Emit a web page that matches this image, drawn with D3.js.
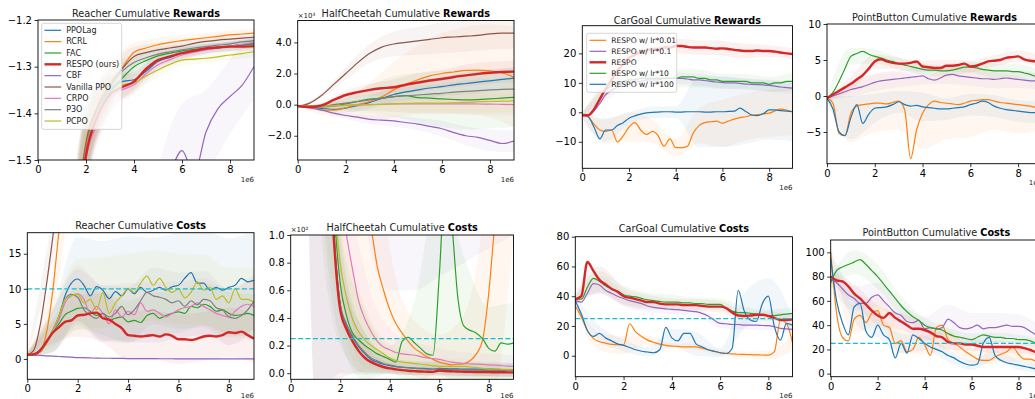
<!DOCTYPE html>
<html>
<head>
<meta charset="utf-8">
<script src="https://cdn.jsdelivr.net/npm/d3@7"></script>
<style>
  body { margin: 0; background: #fff; }
  svg { display: block; font-family: "DejaVu Sans", sans-serif; }
</style>
</head>
<body>
<svg id="chart" width="1035" height="399"></svg>
<script>
// sample positions (x in 1e6 steps)
const xh = [0,0.5,1,1.5,2,2.5,3,3.5,4,4.5,5,5.5,6,6.5,7,7.5,8,8.5,9];
const xq = [0,0.25,0.5,0.75,1,1.25,1.5,1.75,2,2.25,2.5,2.75,3,3.25,3.5,3.75,4,4.25,4.5,4.75,
            5,5.25,5.5,5.75,6,6.25,6.5,6.75,7,7.25,7.5,7.75,8,8.25,8.5,8.75,9];
const xb = [0,1,2,3,4,5,6,7,8,9]; // where the std bands are read

const algoNames = ['PPOLag','RCRL','FAC','RESPO (ours)','CBF','Vanilla PPO','CRPO','P3O','PCPO'];
const lrNames = ['RESPO w/ lr*0.01','RESPO w/ lr*0.1','RESPO','RESPO w/ lr*10','RESPO w/ lr*100'];

// ---- Reacher rewards (xh)
const rR_ppolag = [-3.5,-3.0,-2.3,-1.72,-1.48,-1.40,-1.355,-1.332,-1.328,-1.31,-1.289,-1.28,-1.271,-1.267,-1.263,-1.26,-1.256,-1.253,-1.25];
const rR_rcrl   = [-3.5,-3.0,-2.2,-1.68,-1.46,-1.38,-1.335,-1.303,-1.269,-1.26,-1.253,-1.248,-1.244,-1.241,-1.238,-1.235,-1.232,-1.23,-1.228];
const rR_fac    = [-3.5,-3.0,-2.25,-1.7,-1.47,-1.39,-1.35,-1.325,-1.30,-1.287,-1.277,-1.271,-1.266,-1.263,-1.261,-1.258,-1.256,-1.254,-1.251];
const rR_respo  = [-3.5,-3.0,-2.3,-1.72,-1.49,-1.405,-1.36,-1.344,-1.332,-1.305,-1.286,-1.278,-1.271,-1.266,-1.261,-1.259,-1.257,-1.257,-1.256];
const rR_cbf    = [-4.0,-3.8,-3.5,-3.2,-2.9,-2.6,-2.3,-2.1,-1.9,-1.75,-1.6,-1.53,-1.48,-1.53,-1.44,-1.39,-1.364,-1.34,-1.30];
const rR_ppo    = [-3.5,-3.0,-2.2,-1.69,-1.465,-1.385,-1.34,-1.305,-1.278,-1.27,-1.264,-1.26,-1.256,-1.25,-1.246,-1.243,-1.241,-1.239,-1.237];
const rR_crpo   = [-3.5,-3.0,-2.35,-1.75,-1.5,-1.42,-1.37,-1.35,-1.339,-1.315,-1.296,-1.285,-1.275,-1.269,-1.264,-1.26,-1.256,-1.252,-1.248];
const rR_p3o    = [-3.5,-3.0,-2.25,-1.7,-1.47,-1.39,-1.345,-1.31,-1.291,-1.281,-1.273,-1.268,-1.264,-1.26,-1.257,-1.254,-1.251,-1.247,-1.244];
const rR_pcpo   = [-3.5,-3.0,-2.3,-1.72,-1.48,-1.4,-1.36,-1.339,-1.335,-1.32,-1.307,-1.295,-1.286,-1.284,-1.282,-1.279,-1.275,-1.272,-1.268];
const rR_sd     = [0.3,0.3,0.08,0.04,0.02,0.015,0.012,0.01,0.01,0.01];
const rR_sdCBF  = [0.3,0.3,0.3,0.2,0.1,0.08,0.1,0.09,0.08,0.07];

// ---- HalfCheetah rewards, x10^3 (xh)
const hR_ppolag = [-0.1,-0.15,-0.25,-0.3,-0.22,-0.05,0.15,0.4,0.65,0.82,0.95,1.07,1.16,1.27,1.36,1.45,1.53,1.62,1.7];
const hR_rcrl   = [-0.1,-0.2,-0.35,-0.35,-0.2,0.0,0.2,0.5,0.95,1.3,1.6,1.85,2.0,2.1,2.2,2.22,2.17,2.05,1.76];
const hR_fac    = [-0.1,-0.12,-0.15,-0.1,0.05,0.2,0.35,0.42,0.52,0.58,0.45,0.42,0.37,0.33,0.3,0.32,0.37,0.42,0.47];
const hR_respo  = [-0.1,-0.15,-0.05,0.3,0.62,0.8,0.95,1.05,1.12,1.28,1.42,1.55,1.65,1.78,1.88,1.98,2.05,2.1,2.12];
const hR_cbf    = [-0.1,-0.2,-0.35,-0.55,-0.7,-0.8,-0.95,-1.0,-1.05,-1.15,-1.25,-1.4,-1.55,-1.8,-2.0,-2.1,-2.3,-2.5,-2.35];
const hR_ppo    = [-0.1,0.1,0.6,1.3,2.0,2.7,3.3,3.7,3.9,4.0,4.1,4.2,4.3,4.35,4.4,4.45,4.55,4.6,4.6];
const hR_crpo   = [-0.1,-0.1,-0.1,-0.08,-0.05,-0.02,0.0,0.02,0.05,0.05,0.05,0.05,0.05,0.05,0.05,0.04,0.03,0.02,0.0];
const hR_p3o    = [-0.1,-0.1,-0.1,0.0,0.1,0.2,0.3,0.4,0.52,0.57,0.62,0.68,0.73,0.8,0.85,0.9,0.95,0.98,1.0];
const hR_pcpo   = [-0.1,-0.1,-0.1,-0.08,-0.05,-0.02,0.0,0.02,0.05,0.08,0.1,0.1,0.1,0.12,0.15,0.18,0.2,0.22,0.24];
const hR_sd     = [0,0.15,0.3,0.4,0.5,0.6,0.6,0.7,0.7,0.7];
const hR_sdPPO  = [0,0.15,0.4,0.6,0.8,0.9,1.0,1.0,1.0,1.0];
const hR_sdRCRL = [0,0.3,0.6,1.2,1.8,2.2,2.6,2.8,3.0,3.2];
const hR_sdFAC  = [0,0.2,0.5,0.9,1.3,1.6,1.8,1.9,1.9,1.9];
const hR_sdCBF  = [0,0.1,0.2,0.3,0.35,0.4,0.5,0.6,0.7,0.7];

// ---- CarGoal rewards (xq)
const cR_lr001 = [-1,-1.5,-4,-6, -6.5,-6,-10,-8, -5,-3.5,-6,-7.5, -6.5,-8,-11.5,-9, -12,-12,-11.5,-7,
                  -4.5,-3.5,-3.2,-3, -3.7,-3,-2.3,-1.8, -1.5,-1,-0.8,-0.5, -0.3,0.5,1.1,0.8, 0.2];
const cR_lr01  = [-1,-1,0.5,3, 6,7.5,8.5,9.5, 10,10.5,10.5,11, 11,11,11.5,11.5, 11.5,11.5,11.3,11,
                  11,10.8,10.5,10.3, 10.1,10,10,9.8, 9.6,9.5,9.4,9.3, 9.1,8.9,8.6,8.4, 8.2];
const cR_respo = [-1,-1,1,4.5, 8,11,14,16.5, 18.5,19.5,20.5,21, 21.5,21.5,22,22, 22.5,22.5,22.2,22,
                  22,22,21.8,21.6, 21.7,21.5,21.2,21, 20.8,20.8,21,20.8, 20.8,20.6,20.3,20, 19.8];
const cR_lr10  = [-1,-1,1,4.5, 7.5,9,10,10.5, 11,11,11.5,11.5, 11.5,11.5,11.5,11.5, 11.5,12,12,12,
                  11.5,11.5,11,11, 10.5,10.5,10.5,10.5, 10.5,10,10,10, 9.5,10,10,10.5, 10.5];
const cR_lr100 = [-1,-1.5,-5,-9, -6,-6,-4.5,-3.5, -2,-1.2,-0.6,-0.2, 0,0.1,0.2,0.2, 0.1,0.1,0.2,0.2,
                  0.2,0.1,0.1,0.2, 0.2,0.3,0.4,1.4, 0.3,-0.9,-1.1,-0.5, 0.8,0.8,0.6,0.4, 0.2];
const cR_sd001  = [1,4,5,4,3,6,8,8,8,8];
const cR_sd01   = [1,2,2,2,2,2,2,2,2,2];
const cR_sdRes  = [1,3,3,3,2.5,2.5,2.5,2.5,2,2];
const cR_sd10   = [1,2,3,3,3,3,2.5,2.5,2.5,3];
const cR_sd100  = [1,4,2,2,2,12,12,11,10,10];

// ---- PointButton rewards (xq)
const pR_lr001 = [-0.3,-1.0,-5.2,-5.5, -2.4,-1.4,-1.2,-1.1, -1.0,-1.0,-1.1,-0.9, -0.7,-1.9,-8.7,-4.7, -2.4,-1.2,-0.7,-0.9,
                  -1.0,-1.1,-1.2,-1.0, -0.7,-0.6,-0.5,-0.5, -0.7,-0.9,-1.0,-1.1, -1.2,-1.3,-1.4,-1.6, -1.7];
const pR_lr01  = [-0.3,0,0.3,0.6, 0.9,1.1,1.3,1.6, 1.9,2.1,2.2,2.3, 2.4,2.5,2.6,2.7, 2.8,2.4,2.2,2.5,
                  2.9,3.0,2.8,2.7, 2.6,2.5,2.4,2.4, 2.3,2.4,2.5,2.4, 2.3,2.2,2.1,2.1, 2.0];
const pR_respo = [-0.3,0.2,0.7,1.2, 1.7,2.3,2.9,3.8, 4.8,5.1,4.8,4.6, 4.5,4.5,4.6,4.8, 4.1,4.0,3.9,3.9,
                  4.2,4.2,4.3,4.5, 4.1,4.2,4.5,4.8, 4.9,5.0,5.3,5.4, 5.5,5.1,4.9,4.8, 4.7];
const pR_lr10  = [-0.3,0.5,2,3.8, 5.5,5.9,6.2,5.8, 5.5,5.3,5,4.8, 4.5,4.3,4.1,3.9, 3.7,3.6,3.6,3.5,
                  3.5,3.6,3.8,4, 4.0,3.9,3.7,3.6, 3.5,3.5,3.5,3.4, 3.4,3.2,3.0,2.7, 2.5];
const pR_lr100 = [-0.3,-1.8,-4.9,-5.5, -3,-1.2,-3.8,-2.5, -1.7,-1.6,-1.5,-1.2, -0.8,-1.2,-1.4,-1.3, -1.5,-1.6,-1.7,-1.8,
                  -1.8,-1.7,-1.6,-1.5, -1.2,-1.0,-0.7,-0.9, -1.4,-1.7,-1.9,-2.0, -2.1,-2.2,-2.3,-2.3, -2.3];
const pR_sd001  = [0.3,4,4,4,5,5,5,4,4,3];
const pR_sd01   = [0.3,1,1.2,1.2,1.2,1.2,1.2,1.2,1.2,1.2];
const pR_sdRes  = [0.3,1,1,0.8,0.8,0.8,0.8,0.8,0.8,0.8];
const pR_sd10   = [0.3,1.2,1,0.8,0.8,0.8,0.8,1,1,1];
const pR_sd100  = [0.3,3,2,1.5,2,1.5,1.5,1.5,1.5,1.5];

// ---- Reacher costs (xq)
const rC_ppolag = [0.6,0.7,1.0,2.3, 4,6,9,10.8, 11.4,10.5,9,10.3, 9.8,8.6,9.6,9, 10,9.3,10.2,9.5,
                   9.8,10.2,9.8,10.3, 10.5,11.5,12.3,10.8, 10.8,9.8,10.2,9.8, 10.2,10.5,11.5,11, 11.2];
const rC_rcrl   = [0.5,0.6,1.0,3.5, 9.4,18,26,32, 36,39,41,43, 44,45,46,47, 47,48,48,49,
                   49,50,50,50, 51,51,51,52, 52,52,52,53, 53,53,53,54, 54];
const rC_fac    = [0.6,0.7,1.0,2.2, 3.7,5,6.3,6.8, 7.2,7.3,6.8,6.2, 6.5,5.5,5.8,6, 5.3,5.5,5.2,6.2,
                   6.5,5.8,6.2,6.5, 6.7,6.5,7.5,7.3, 7.8,7.5,6.8,7, 6.5,6.2,6.3,6.5, 6.2];
const rC_respo  = [0.6,0.65,1.2,2.4, 3.7,4.5,5.3,5.5, 6.2,6.3,6.5,6.6, 5.8,5.6,5,4.4, 3.4,3.3,3.2,3.3,
                   3.4,3.2,3.5,3.3, 2.8,2.8,2.7,2.9, 3.2,3.3,3.2,3.4, 3.8,3.7,3.9,3.4, 2.9];
const rC_cbf    = [0.6,0.55,0.5,0.45, 0.4,0.35,0.3,0.25, 0.2,0.18,0.15,0.12, 0.1,0.1,0.08,0.07, 0.06,0.05,0.05,0.04,
                   0.04,0.03,0.03,0.03, 0.02,0.02,0.02,0.02, 0.02,0.02,0.02,0.02, 0.02,0.02,0.02,0.02, 0.02];
const rC_ppo    = [0.6,1.2,4.6,10.3, 17,24,30,34, 37,40,42,44, 45,46,47,48, 48,49,49,50,
                   50,50,51,51, 51,52,52,52, 52,53,53,53, 53,54,54,54, 54];
const rC_crpo   = [0.6,0.7,1.0,2.2, 3.8,5.5,8,9, 9.3,8.5,6.5,7.5, 6.5,5,7,6, 6.8,6.3,8,6.8,
                   7,6.5,6,6.5, 7,7.3,7.5,8, 7.5,7,6.5,6.2, 6,6.8,7.5,7.8, 7.5];
const rC_p3o    = [0.6,0.7,1.0,2.3, 4,6,8.5,9.2, 8.8,7,6.2,5.8, 6.5,6,6.5,7.5, 6.3,7,8.3,9.5,
                   9,8.8,8.5,8, 8.3,7.5,8.3,7.7, 8.5,8.3,7.3,7, 6,5.8,6.2,7, 8.2];
const rC_pcpo   = [0.6,0.7,1.0,2.3, 4,6,8.5,9, 9.2,8,8.5,7, 9.5,6.5,8,9, 10,9.5,10.8,11.8,
                   10.5,11.5,10.2,9.5, 10,8.7,9.5,11, 9.8,10.2,8.5,9, 8,10,8.5,8.5, 8];
const rC_sdPPOLag = [0.2,3,6,7,7.5,7.5,7.5,7.5,7,7];
const rC_sdPCPO   = [0.2,3,5,5,5,5,5,5,5,5];
const rC_sdMid    = [0.2,3,4,4,4,4,4,4,4,4];
const rC_sdFAC    = [0.2,2,3,3,3,3,3,3,3,3];
const rC_sdRes    = [0.2,1.5,3,3.5,3.5,3.5,3.5,3.5,3.5,3.5];
const rC_sdCBF    = [0.1,0.1,0.1,0.1,0.1,0.1,0.1,0.1,0.1,0.1];
const rC_sdHigh   = [0.3,3,5,5,5,5,5,5,5,5];
const rC_limit = 10;

// ---- HalfCheetah costs, x10^2 (xq)
const hC_ppolag = [15,12,10,6, 4,2.8,1.9,1.0, 0.5,0.35,0.26,0.19, 0.14,0.1,0.08,0.065, 0.055,0.048,0.043,0.04,
                   0.037,0.035,0.033,0.03, 0.035,0.033,0.032,0.031, 0.03,0.03,0.03,0.03, 0.03,0.028,0.027,0.026, 0.025];
const hC_rcrl   = [20,18,16,14, 12,9,6,4, 3,2.5,2,1.6, 1.3,1.05,0.77,0.6, 0.46,0.36,0.29,0.23,
                   0.18,0.15,0.12,0.1, 0.08,0.07,0.06,0.065, 0.07,0.09,0.14,0.24, 0.58,1.1,1.6,2, 2.5];
const hC_fac    = [15,12,10,7, 5,3.5,2.2,1.2, 0.65,0.42,0.29,0.24, 0.2,0.17,0.14,0.12, 0.1,0.08,0.23,0.26,
                   0.22,0.18,0.14,0.13, 0.7,1.4,1.1,0.55, 0.34,0.31,0.29,0.25, 0.18,0.16,0.22,0.21, 0.22];
const hC_respo  = [15,12,10,6, 4,2.8,1.8,0.95, 0.46,0.32,0.23,0.16, 0.11,0.08,0.06,0.045, 0.035,0.028,0.022,0.018,
                   0.015,0.012,0.011,0.01, 0.02,0.016,0.014,0.012, 0.011,0.01,0.009,0.008, 0.008,0.007,0.007,0.006, 0.006];
const hC_cbf    = [20,18,16,14, 12,10,8,6, 5,4,3.5,3, 2.6,2.3,2,1.8, 1.7,1.6,1.5,1.5,
                   1.4,1.4,1.4,1.4, 1.4,1.5,1.5,1.6, 1.6,1.7,1.8,1.9, 2,2.1,2.2,2.3, 2.4];
const hC_ppo    = [25,24,23,22, 21,20,19,18, 17,16,15,14, 13,12,11,10, 9,8.5,8,7.5,
                   7,6.8,6.6,6.4, 6.2,6,5.8,5.6, 5.4,5.2,5,4.8, 4.6,4.5,4.4,4.3, 4.2];
const hC_crpo   = [15,13,11,9, 7,5,3,1.8, 1.3,1.0,0.75,0.52, 0.39,0.3,0.23,0.19, 0.17,0.15,0.14,0.135,
                   0.13,0.12,0.11,0.105, 0.1,0.09,0.08,0.075, 0.07,0.068,0.066,0.064, 0.06,0.058,0.055,0.052, 0.05];
const hC_p3o    = [15,12,10,6, 4,2.8,1.9,1.0, 0.5,0.36,0.27,0.2, 0.15,0.11,0.09,0.07, 0.06,0.05,0.045,0.04,
                   0.035,0.032,0.03,0.028, 0.03,0.028,0.026,0.025, 0.024,0.023,0.022,0.021, 0.02,0.02,0.02,0.02, 0.02];
const hC_pcpo   = [15,12,10,7, 5,3.5,2.2,1.3, 0.8,0.55,0.39,0.3, 0.24,0.2,0.17,0.14, 0.11,0.09,0.08,0.075,
                   0.07,0.065,0.06,0.055, 0.05,0.05,0.05,0.05, 0.05,0.045,0.04,0.035, 0.03,0.03,0.028,0.026, 0.025];
const hC_sdRes  = [2,4.2,0.5,0.1,0.04,0.03,0.03,0.03,0.03,0.03];
const hC_sdPPOL = [2,4.2,0.5,0.15,0.06,0.05,0.05,0.05,0.05,0.05];
const hC_sdLow  = [2,2.5,0.3,0.15,0.06,0.05,0.05,0.05,0.05,0.05];
const hC_sdPCPO = [2,3,0.4,0.25,0.1,0.08,0.06,0.05,0.05,0.05];
const hC_sdCRPO = [2,4,0.6,0.35,0.15,0.1,0.08,0.08,0.08,0.08];
const hC_sdFAC  = [2,3,0.4,0.25,0.1,0.3,0.7,0.5,0.3,0.3];
const hC_sdRCRL = [2,8,2,1.2,0.45,0.2,0.2,0.35,0.9,1.5];
const hC_sdCBF  = [2,8,2,1.5,1.1,0.8,0.7,0.8,1.1,1.4];
const hC_sdPPO  = [0,0,0,0,0,0,0,0,0,0];
const hC_limit = 0.25;

// ---- CarGoal costs (xq)
const cC_lr001 = [33.6,26,17,11.7, 9.4,8.5,7.6,7.4, 7.2,21.5,16,13, 10.5,9,7.8,7, 6.5,6.3,6,6,
                  6,5,4,3, 2,1.5,1.2,1, 0.9,0.7,0.6,0.5, 0.4,2.7,24,21.7, 8.7];
const cC_lr01  = [37,36,42,48.5, 47.5,44,42,40, 38.5,37,36,35, 33.4,32.5,32,31.5, 31.1,31,30.5,30,
                  29.6,28.5,26.7,24, 21.7,21.5,21,21, 20.6,20.5,20.5,20.3, 20.2,19.5,18.4,18, 17.7];
const cC_respo = [38,40,63,57, 51,48,45,43, 40,39,38,37, 36,36,35,34.5, 34.5,34.5,34,34,
                  34,33.5,33,33, 33,32,29,27, 26.7,27,27.5,27.5, 26.7,25.5,24,24, 24.5];
const cC_lr10  = [38,38,46,52, 50,47,45,43.5, 41,40,39.5,38.5, 37.5,37,36.5,36, 36,36,35.5,35.5,
                  35,35,34.5,34.5, 34.5,32,30,29, 29,28.5,28,27.5, 27,27,27.5,28, 28.5];
const cC_lr100 = [37,28,17,13, 15,12,10,8, 7,5.5,4,3, 2.5,2,4,19, 12,10,15,15,
                  8,6,4,3, 2,1.5,5,44, 30,24,23,35, 40,19.5,10.5,21.7, 20.6];
const cC_sd001  = [3,6,6,3,2,2,2,2,3,5];
const cC_sd01   = [3,6,5,4,3,3,3,3,3,3];
const cC_sdRes  = [3,9,6,5,4,4,4,3,3,3];
const cC_sd10   = [3,7,6,5,5,4,4,4,4,4];
const cC_sd100  = [3,5,4,3,6,8,3,12,12,6];
const cC_limit = 25;

// ---- PointButton costs (xq)
const pC_lr001 = [100,50,30,27, 45,48,42,50, 52,40,38,25, 27,18,20,30, 24,15,38,40,
                  28,25,22,18, 15,12,11,11, 14,16,18,22, 16,12,12,10, 8];
const pC_lr01  = [78,75,70,65, 62,58,58,63, 65,60,55,50, 48,43,42,44, 37,38,37,38,
                  45,42,38,37, 38,40,37,38, 38,39,40,39, 39,38,35,32, 30];
const pC_respo = [80,77,76,72, 66,62,57,52, 48,46,50,46, 43,40,37,37, 36,34,31,30,
                  26,25,25,24, 24,23,22,22, 22,22,22,22, 22,21,19.5,18, 18];
const pC_lr10  = [75,85,88,90, 92,94,90,85, 80,74,68,62, 56,51,47,44, 40,38,37,36,
                  33,31,30,29, 28,30,32,31, 30,30,29,29, 28,28,27,25, 24];
const pC_lr100 = [95,60,42,32, 55,58,35,30, 40,32,28,13, 25,17,32,29, 25,22,20,18,
                  15,13,10,8, 7,8,25,30, 15,11,9,8, 7,6,5,4, 4];
const pC_sd001  = [5,12,12,10,8,8,6,6,6,6];
const pC_sd01   = [5,10,10,10,10,12,12,12,10,8];
const pC_sdRes  = [5,8,8,7,6,6,5,5,5,5];
const pC_sd10   = [5,10,10,8,6,5,5,4,4,4];
const pC_sd100  = [5,12,10,8,6,5,4,4,4,3];
const pC_limit = 25;

const C = {
  blue: '#1f77b4', orange: '#ff7f0e', green: '#2ca02c', red: '#d62728', purple: '#9467bd',
  brown: '#8c564b', pink: '#e377c2', gray: '#7f7f7f', olive: '#bcbd22', cyan: '#17becf'
};
const algoColors = [C.blue, C.orange, C.green, C.red, C.purple, C.brown, C.pink, C.gray, C.olive];
const lrColors = [C.orange, C.purple, C.red, C.green, C.blue];

// red (RESPO) is always drawn last so it sits on top
function algoSeries(v, sd) {
  const idx = [0, 1, 2, 4, 5, 6, 7, 8, 3];
  return idx.map(i => ({ color: algoColors[i], vals: v[i], sd: sd[i], thick: i === 3 }));
}
function lrSeries(v, sd) {
  const idx = [0, 1, 3, 4, 2];
  return idx.map(i => ({ color: lrColors[i], vals: v[i], sd: sd[i], thick: i === 2 }));
}

const panels = [
  { name: 'Reacher', kind: 'Rewards', left: 38, right: 254, top: 20, bottom: 160, titleY: 16.5,
    grid: xh, yDomain: [-1.5, -1.2], yTicks: [-1.5, -1.4, -1.3, -1.2], fmt: d3.format('.1f'),
    series: algoSeries(
      [rR_ppolag, rR_rcrl, rR_fac, rR_respo, rR_cbf, rR_ppo, rR_crpo, rR_p3o, rR_pcpo],
      [rR_sd, rR_sd, rR_sd, rR_sd, rR_sdCBF, rR_sd, rR_sd, rR_sd, rR_sd]),
    legend: { names: algoNames, colors: algoColors, x: 41.7, y: 23.3, w: 80, rowH: 11.34, font: 8 } },
  { name: 'HalfCheetah', kind: 'Rewards', left: 297.7, right: 514, top: 20.5, bottom: 160, titleY: 16.5,
    grid: xh, yDomain: [-3.56, 5.41], yTicks: [-2, 0, 2, 4], fmt: d3.format('.1f'), expo: '×10³',
    series: algoSeries(
      [hR_ppolag, hR_rcrl, hR_fac, hR_respo, hR_cbf, hR_ppo, hR_crpo, hR_p3o, hR_pcpo],
      [hR_sd, hR_sdRCRL, hR_sdFAC, hR_sd, hR_sdCBF, hR_sdPPO, hR_sd, hR_sd, hR_sd]) },
  { name: 'CarGoal', kind: 'Rewards', left: 582.3, right: 792.5, top: 25.7, bottom: 168.3, titleY: 23.5,
    grid: xq, yDomain: [-19, 29.4], yTicks: [-10, 0, 10, 20], fmt: d3.format('d'),
    series: lrSeries([cR_lr001, cR_lr01, cR_respo, cR_lr10, cR_lr100],
                     [cR_sd001, cR_sd01, cR_sdRes, cR_sd10, cR_sd100]),
    legend: { names: lrNames, colors: lrColors, x: 586.7, y: 33.3, w: 90, rowH: 11, font: 7.6 } },
  { name: 'PointButton', kind: 'Rewards', left: 827, right: 1042, top: 24, bottom: 163.7, titleY: 20.5,
    grid: xq, yDomain: [-9.4, 10], yTicks: [-5, 0, 5, 10], fmt: d3.format('d'),
    series: lrSeries([pR_lr001, pR_lr01, pR_respo, pR_lr10, pR_lr100],
                     [pR_sd001, pR_sd01, pR_sdRes, pR_sd10, pR_sd100]) },
  { name: 'Reacher', kind: 'Costs', left: 27.3, right: 254, top: 232.7, bottom: 379.3, titleY: 228.5,
    grid: xq, yDomain: [-2.9, 18], yTicks: [0, 5, 10, 15], fmt: d3.format('d'), limit: rC_limit,
    series: algoSeries(
      [rC_ppolag, rC_rcrl, rC_fac, rC_respo, rC_cbf, rC_ppo, rC_crpo, rC_p3o, rC_pcpo],
      [rC_sdPPOLag, rC_sdHigh, rC_sdFAC, rC_sdRes, rC_sdCBF, rC_sdHigh, rC_sdMid, rC_sdMid, rC_sdPCPO]) },
  { name: 'HalfCheetah', kind: 'Costs', left: 290.7, right: 513.5, top: 235, bottom: 379.3, titleY: 231,
    grid: xq, yDomain: [-0.044, 1.0], yTicks: [0, 0.2, 0.4, 0.6, 0.8, 1.0], fmt: d3.format('.1f'),
    expo: '×10²', limit: hC_limit,
    series: algoSeries(
      [hC_ppolag, hC_rcrl, hC_fac, hC_respo, hC_cbf, hC_ppo, hC_crpo, hC_p3o, hC_pcpo],
      [hC_sdPPOL, hC_sdRCRL, hC_sdFAC, hC_sdRes, hC_sdCBF, hC_sdPPO, hC_sdCRPO, hC_sdLow, hC_sdPCPO]) },
  { name: 'CarGoal', kind: 'Costs', left: 575.3, right: 792.5, top: 236.7, bottom: 376.7, titleY: 232,
    grid: xq, yDomain: [-14.1, 80], yTicks: [0, 20, 40, 60, 80], fmt: d3.format('d'), limit: cC_limit,
    series: lrSeries([cC_lr001, cC_lr01, cC_respo, cC_lr10, cC_lr100],
                     [cC_sd001, cC_sd01, cC_sdRes, cC_sd10, cC_sd100]) },
  { name: 'PointButton', kind: 'Costs', left: 830.7, right: 1042, top: 240, bottom: 376.7, titleY: 236,
    grid: xq, yDomain: [-2.5, 110.2], yTicks: [0, 20, 40, 60, 80, 100], fmt: d3.format('d'), limit: pC_limit,
    series: lrSeries([pC_lr001, pC_lr01, pC_respo, pC_lr10, pC_lr100],
                     [pC_sd001, pC_sd01, pC_sdRes, pC_sd10, pC_sd100]) }
];

const svg = d3.select('#chart');
const font = 'DejaVu Sans';
let clipN = 0;

function drawPanel(p) {
  const x = d3.scaleLinear().domain([0, 9]).range([p.left, p.right]);
  const y = d3.scaleLinear().domain(p.yDomain).range([p.bottom, p.top]);

  const id = 'clip' + clipN++;
  svg.append('clipPath').attr('id', id).append('rect')
    .attr('x', p.left).attr('y', p.top)
    .attr('width', p.right - p.left).attr('height', p.bottom - p.top);
  const plot = svg.append('g').attr('clip-path', `url(#${id})`);

  // std bands, centre at the band positions
  const step = p.grid === xq ? 4 : 2;
  const area = d3.area().curve(d3.curveMonotoneX)
    .x(d => x(d[0])).y0(d => y(d[1] - d[2])).y1(d => y(d[1] + d[2]));
  p.series.forEach(s => {
    const pts = xb.map((bx, i) => [bx, s.vals[i * step], s.sd[i]]);
    plot.append('path').attr('d', area(pts))
      .attr('fill', s.color).attr('fill-opacity', 0.065);
  });

  const line = d3.line().curve(d3.curveMonotoneX)
    .x((d, i) => x(p.grid[i])).y(d => y(d));
  p.series.forEach(s => {
    plot.append('path').attr('d', line(s.vals))
      .attr('fill', 'none').attr('stroke', s.color)
      .attr('stroke-width', s.thick ? 2.4 : 1.2)
      .attr('stroke-linejoin', 'round');
  });

  if (p.limit != null) {
    plot.append('line')
      .attr('x1', p.left).attr('x2', p.right)
      .attr('y1', y(p.limit)).attr('y2', y(p.limit))
      .attr('stroke', C.cyan).attr('stroke-width', 1.2)
      .attr('stroke-dasharray', '5,2.4');
  }

  // axes
  const gx = svg.append('g').attr('transform', `translate(0,${p.bottom})`)
    .call(d3.axisBottom(x).tickValues([0, 2, 4, 6, 8]).tickSize(3.5).tickPadding(2.5)
      .tickFormat(d3.format('d')));
  const gy = svg.append('g').attr('transform', `translate(${p.left},0)`)
    .call(d3.axisLeft(y).tickValues(p.yTicks).tickSize(3.5).tickPadding(2.5).tickFormat(p.fmt));
  [gx, gy].forEach(g => {
    g.attr('font-family', font).attr('font-size', 10);
    g.select('.domain').remove();
    g.selectAll('.tick line').attr('stroke', '#000').attr('stroke-width', 0.8);
    g.selectAll('.tick text').attr('fill', '#000');
  });

  // frame
  svg.append('rect')
    .attr('x', p.left).attr('y', p.top)
    .attr('width', p.right - p.left).attr('height', p.bottom - p.top)
    .attr('fill', 'none').attr('stroke', '#000').attr('stroke-width', 0.9);

  // title
  const t = svg.append('text')
    .attr('x', (p.left + p.right) / 2).attr('y', p.titleY)
    .attr('text-anchor', 'middle').attr('font-size', 9.7).attr('fill', '#222');
  t.append('tspan').text(`${p.name} Cumulative `);
  t.append('tspan').attr('font-weight', 'bold').attr('fill', '#000').text(p.kind);

  // offset labels
  svg.append('text')
    .attr('x', p.right).attr('y', Math.min(p.bottom + 21.5, 398))
    .attr('text-anchor', 'end').attr('font-size', 7).attr('fill', '#222')
    .text('1e6');
  if (p.expo) {
    svg.append('text')
      .attr('x', p.left).attr('y', p.top - 3)
      .attr('font-size', 7).attr('fill', '#222')
      .text(p.expo);
  }

  if (p.legend) drawLegend(p.legend);
}

function drawLegend(L) {
  const h = L.rowH * L.names.length + 4;
  const g = svg.append('g');
  g.append('rect')
    .attr('x', L.x).attr('y', L.y).attr('width', L.w).attr('height', h)
    .attr('rx', 2).attr('fill', '#fff').attr('fill-opacity', 0.8)
    .attr('stroke', '#ccc').attr('stroke-width', 0.8);
  L.names.forEach((n, i) => {
    const cy = L.y + 7 + i * L.rowH;
    g.append('line')
      .attr('x1', L.x + 2.8).attr('x2', L.x + 19.5)
      .attr('y1', cy).attr('y2', cy)
      .attr('stroke', L.colors[i])
      .attr('stroke-width', L.colors[i] === C.red ? 2.4 : 1.2);
    g.append('text')
      .attr('x', L.x + 24.5).attr('y', cy)
      .attr('dy', '0.35em').attr('font-size', L.font).attr('fill', '#222')
      .text(n);
  });
}

panels.forEach(drawPanel);
</script>
</body>
</html>
